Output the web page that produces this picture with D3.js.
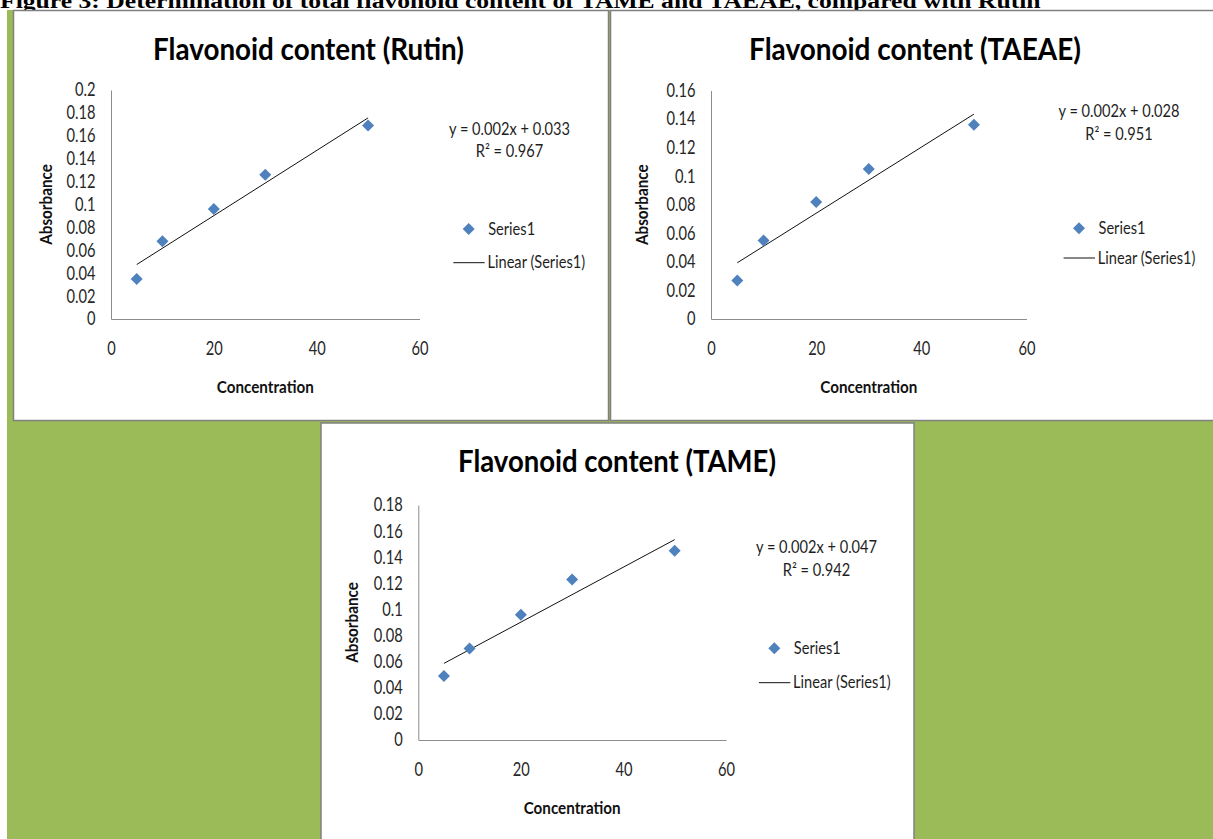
<!DOCTYPE html>
<html>
<head>
<meta charset="utf-8">
<script src="https://cdn.jsdelivr.net/npm/d3@7"></script>
<style>
  html, body { margin: 0; padding: 0; background: #fff; overflow: hidden; }
  svg { display: block; }
</style>
</head>
<body>
<svg id="fig" width="1213" height="839"></svg>
<script>
// ---- data -------------------------------------------------------------
const caption = "Figure 3: Determination of total flavonoid content of TAME and TAEAE, compared with Rutin";
const titles = ["Flavonoid content (Rutin)", "Flavonoid content (TAEAE)", "Flavonoid content (TAME)"];
const concentration = [5, 10, 20, 30, 50];
const absorbanceRutin = [0.035, 0.068, 0.096, 0.126, 0.169];
const absorbanceTAEAE = [0.027, 0.055, 0.082, 0.105, 0.136];
const absorbanceTAME  = [0.049, 0.070, 0.096, 0.123, 0.145];
const xTicks = [0, 20, 40, 60];
const yTicksRutin = [0, 0.02, 0.04, 0.06, 0.08, 0.1, 0.12, 0.14, 0.16, 0.18, 0.2];
const yTicksTAEAE = [0, 0.02, 0.04, 0.06, 0.08, 0.1, 0.12, 0.14, 0.16];
const yTicksTAME  = [0, 0.02, 0.04, 0.06, 0.08, 0.1, 0.12, 0.14, 0.16, 0.18];
const equations = ["y = 0.002x + 0.033", "y = 0.002x + 0.028", "y = 0.002x + 0.047"];
const rSquared  = ["R\u00B2 = 0.967", "R\u00B2 = 0.951", "R\u00B2 = 0.942"];
const seriesName = "Series1";
const trendName = "Linear (Series1)";
const xLabel = "Concentration";
const yLabel = "Absorbance";

// ---- styles -----------------------------------------------------------
const SANS = "Lato, 'Open Sans', sans-serif";
const GREEN = "#9BBB59";
const MARKER = "#4F81BD";
const AXIS = "#8c8c8c";
const FRAME = "#808080";

const svg = d3.select("#fig");

// measure the natural width of a string in a given font
function measure(str, size, weight, family) {
  const t = svg.append("text")
    .style("font-family", family).style("font-size", size + "px").style("font-weight", weight)
    .text(str);
  const w = t.node().getComputedTextLength();
  t.remove();
  return w;
}

// place a text at (x, y), horizontally condensed so that it spans `width`
function label(g, str, x, y, o) {
  const t = g.append("text")
    .attr("text-anchor", o.anchor || "start")
    .style("font-family", o.family || SANS)
    .style("font-size", o.size + "px")
    .style("font-weight", o.weight || "normal")
    .attr("fill", o.fill || "#1e1e1e")
    .text(str);
  const k = o.k != null ? o.k : o.width / t.node().getComputedTextLength();
  t.attr("transform", `translate(${x},${y})` + (o.rotate ? ` rotate(${o.rotate})` : "") + ` scale(${k},1)`);
  return t;
}

// ---- backdrop ---------------------------------------------------------
svg.append("rect").attr("x", 0).attr("y", 0).attr("width", 1213).attr("height", 839).attr("fill", "#fff");
svg.append("rect").attr("x", 7).attr("y", 10).attr("width", 1206).attr("height", 829).attr("fill", GREEN);

label(svg, caption, 0, 8, {
  size: 22, weight: "bold", family: "'Liberation Serif', 'Times New Roman', serif",
  fill: "#000", width: 1041
});

// ---- panel geometry ---------------------------------------------------
const panels = [
  { values: absorbanceRutin, yTicks: yTicksRutin, yMax: 0.2,
    frame: [13.5, 10.5, 595, 410], xr: [111, 419.5], yr: [319, 90],
    title: [308.5, 59.5, 311], yTitleX: 46, eq: [509.5, 135, 157.3],
    legend: [468.7, 229, 262.7] },
  { values: absorbanceTAEAE, yTicks: yTicksTAEAE, yMax: 0.16,
    frame: [610.5, 10.5, 620, 410], xr: [711, 1026.5], yr: [319, 90.5],
    title: [915, 59.5, 332], yTitleX: 642.5, eq: [1119, 116.7, 140],
    legend: [1079, 228.3, 258] },
  { values: absorbanceTAME, yTicks: yTicksTAME, yMax: 0.18,
    frame: [321, 423, 593, 430], xr: [418.3, 726], yr: [740, 505],
    title: [617, 471.7, 318], yTitleX: 352.5, eq: [816.5, 553.3, 575.5],
    legend: [774.3, 648.3, 682.7] }
];

// condensing factors shared by all panels
const TICK_SIZE = 18.5, TEXT_SIZE = 16.3, AXTITLE_SIZE = 16.2, TITLE_SIZE = 30;
const kTick = 29 / measure("0.18", TICK_SIZE, "normal", SANS);
const kText = 121 / measure(equations[0], TEXT_SIZE, "normal", SANS);
const kAxTitle = 97 / measure(xLabel, AXTITLE_SIZE, "bold", SANS);

// least-squares line through the points
function linearFit(xs, ys) {
  const mx = d3.mean(xs), my = d3.mean(ys);
  const sxy = d3.sum(xs, (x, i) => (x - mx) * (ys[i] - my));
  const sxx = d3.sum(xs, x => (x - mx) * (x - mx));
  const slope = sxy / sxx;
  return { slope, intercept: my - slope * mx };
}

panels.forEach((p, i) => {
  const g = svg.append("g");
  const [fx, fy, fw, fh] = p.frame;
  g.append("rect").attr("x", fx).attr("y", fy).attr("width", fw).attr("height", fh)
    .attr("fill", "#fff").attr("stroke", FRAME).attr("stroke-width", 1.5);

  const x = d3.scaleLinear().domain([0, 60]).range(p.xr);
  const y = d3.scaleLinear().domain([0, p.yMax]).range(p.yr);

  // title
  label(g, titles[i], p.title[0], p.title[1], {
    size: TITLE_SIZE, weight: "bold", anchor: "middle", fill: "#000", width: p.title[2]
  });

  // y axis
  const yAxis = g.append("g").attr("transform", `translate(${x(0)},0)`)
    .call(d3.axisLeft(y).tickValues(p.yTicks).tickFormat(d3.format("~g"))
      .tickSize(0).tickSizeOuter(0).tickPadding(15.5));
  yAxis.select(".domain").attr("stroke", AXIS).attr("stroke-width", 1);
  yAxis.selectAll(".tick text")
    .attr("x", -15.5 / kTick)
    .attr("transform", `scale(${kTick},1)`)
    .style("font-family", SANS).style("font-size", TICK_SIZE + "px").attr("fill", "#262626");

  // x axis
  const xAxis = g.append("g").attr("transform", `translate(0,${y(0)})`)
    .call(d3.axisBottom(x).tickValues(xTicks).tickFormat(d3.format("d"))
      .tickSize(0).tickSizeOuter(0).tickPadding(0));
  xAxis.select(".domain").attr("stroke", AXIS).attr("stroke-width", 1);
  xAxis.selectAll(".tick text")
    .attr("y", 36).attr("dy", 0)
    .attr("transform", `scale(${kTick},1)`)
    .style("font-family", SANS).style("font-size", TICK_SIZE + "px").attr("fill", "#262626");

  // axis titles
  label(g, xLabel, (p.xr[0] + p.xr[1]) / 2, y(0) + 74, {
    size: AXTITLE_SIZE, weight: "bold", anchor: "middle", fill: "#111", k: kAxTitle
  });
  label(g, yLabel, p.yTitleX + 5.8, (p.yr[0] + p.yr[1]) / 2, {
    size: AXTITLE_SIZE, weight: "bold", anchor: "middle", fill: "#111", k: kAxTitle, rotate: -90
  });

  // linear trend line across the measured range
  const fit = linearFit(concentration, p.values);
  const ext = d3.extent(concentration);
  g.append("path")
    .attr("d", d3.line().x(d => x(d)).y(d => y(fit.intercept + fit.slope * d))(ext))
    .attr("fill", "none").attr("stroke", "#111").attr("stroke-width", 1);

  // measured points
  const diamond = d3.symbol().type(d3.symbolSquare).size(72);
  g.selectAll("path.pt").data(concentration.map((c, j) => [c, p.values[j]])).join("path")
    .attr("class", "pt")
    .attr("d", diamond)
    .attr("transform", d => `translate(${x(d[0])},${y(d[1])}) rotate(45)`)
    .attr("fill", MARKER);

  // regression equation
  label(g, equations[i], p.eq[0], p.eq[1], { size: TEXT_SIZE, anchor: "middle", k: kText });
  label(g, rSquared[i], p.eq[0], p.eq[2], { size: TEXT_SIZE, anchor: "middle", k: kText });

  // legend
  const [lx, ly, lineY] = p.legend;
  g.append("path").attr("d", diamond).attr("transform", `translate(${lx},${ly}) rotate(45)`).attr("fill", MARKER);
  label(g, seriesName, lx + 19.5, ly + 6, { size: TEXT_SIZE, k: kText });
  g.append("line").attr("x1", lx - 15.4).attr("x2", lx + 16).attr("y1", lineY).attr("y2", lineY)
    .attr("stroke", "#111").attr("stroke-width", 1);
  label(g, trendName, lx + 18.8, lineY + 5.6, { size: TEXT_SIZE, k: kText });
});
</script>
</body>
</html>
